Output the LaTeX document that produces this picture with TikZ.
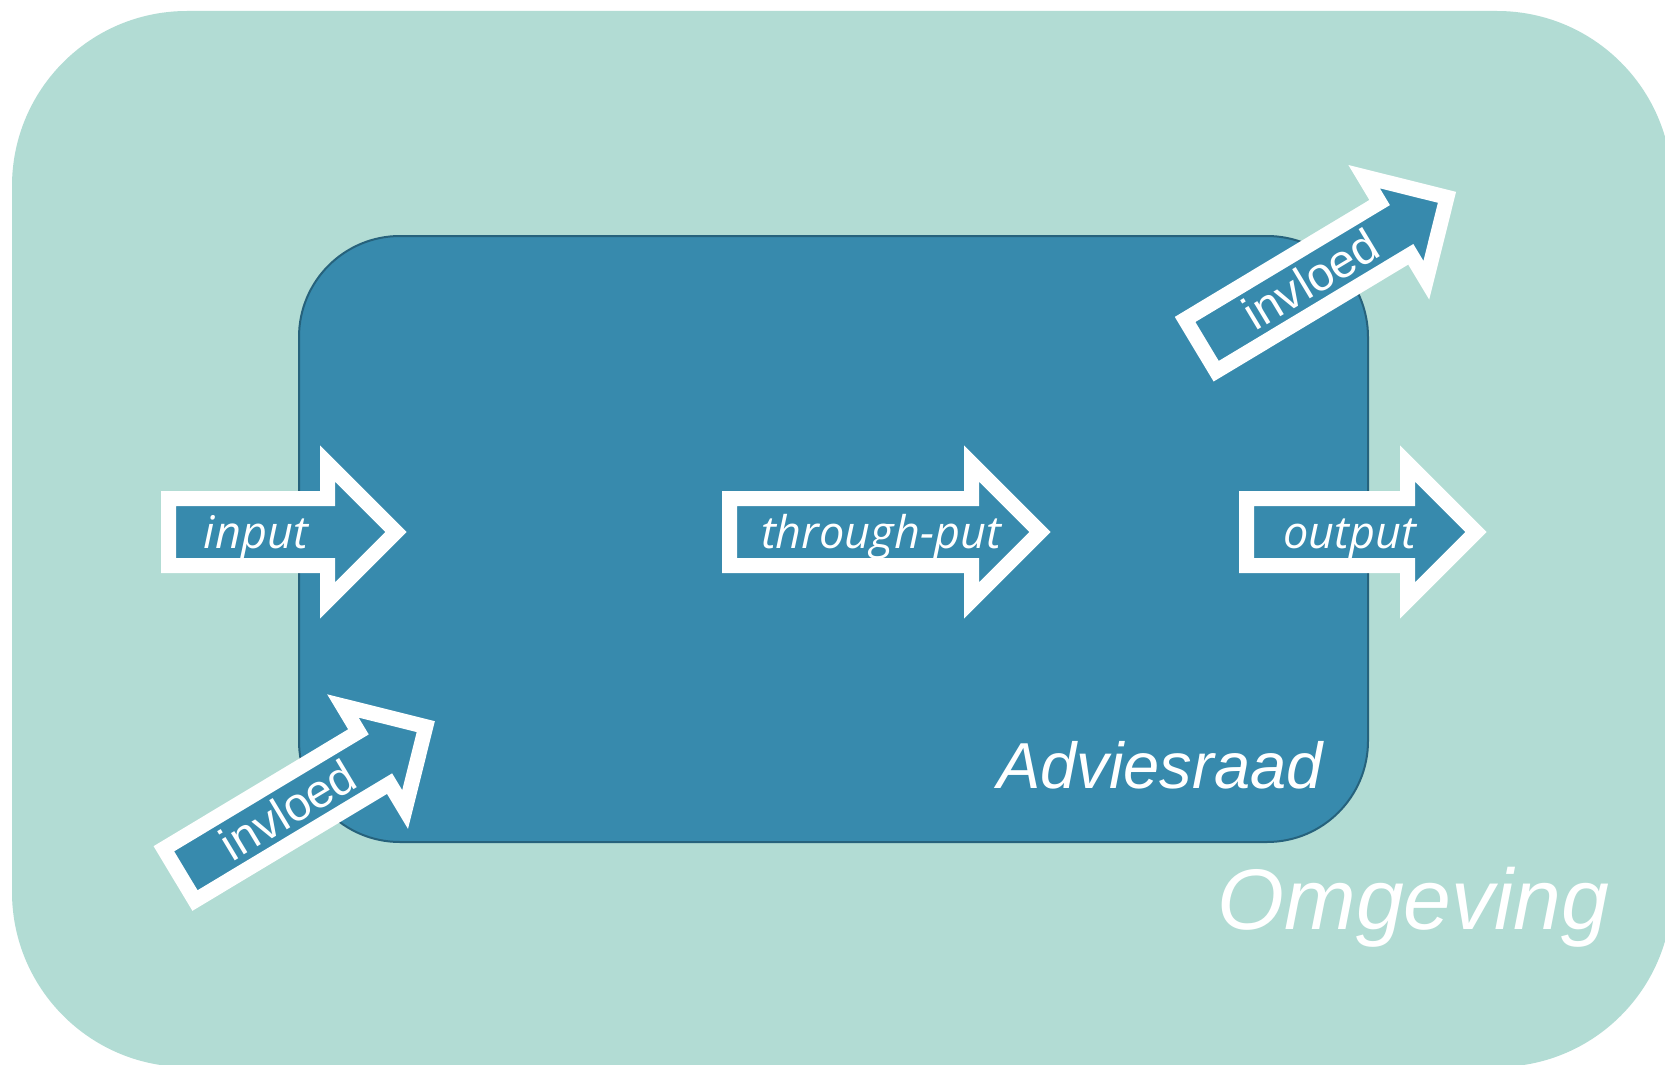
\documentclass[tikz,border=0pt]{standalone}
\usepackage{fontspec}
\setmainfont{Liberation Sans}
\newfontfamily\pijlfont{Open Sans}
\definecolor{omgevingkleur}{RGB}{178,220,212}
\definecolor{raadkleur}{RGB}{55,138,173}
\definecolor{raadrand}{RGB}{38,98,124}
\begin{document}
\begin{tikzpicture}[x=1pt,y=-1pt]
	% Styles
	\tikzset{blokpijl/.style={draw=white, line width=15pt, fill=raadkleur}}
	\tikzset{pijltekst/.style={text=white, inner sep=0pt, font=\fontsize{47}{56}\selectfont}}
	\tikzset{stroomtekst/.style={text=white, inner sep=0pt, anchor=base, font=\fontsize{45}{54}\selectfont\pijlfont\itshape}}
	
	\useasboundingbox (0,0) rectangle (1665,1065);
	\fill[white] (0,0) rectangle (1665,1065);
	\clip (0,0) rectangle (1665,1065);
	
	% Draw the environment
	\fill[omgevingkleur, rounded corners=175pt] (12,11) rectangle (1672,1067);
	
	% Draw the advisory board
	\draw[raadrand, fill=raadkleur, line width=2pt, rounded corners=101pt] (299,236) rectangle (1368,842);
	
	% Horizontal arrows
	\draw[blokpijl] (168.5,498.5) -- (327.5,498.5) -- (327.5,463.6) -- (395.9,532) -- (327.5,600.4) -- (327.5,565.5) -- (168.5,565.5) -- cycle;
	\draw[blokpijl] (729.5,498.5) -- (971.5,498.5) -- (971.5,463.6) -- (1039.9,532) -- (971.5,600.4) -- (971.5,565.5) -- (729.5,565.5) -- cycle;
	\draw[blokpijl] (1246.5,498.5) -- (1407.5,498.5) -- (1407.5,463.6) -- (1475.9,532) -- (1407.5,600.4) -- (1407.5,565.5) -- (1246.5,565.5) -- cycle;
	
	\node[stroomtekst] (input) at (256,548) {input};
	\node[stroomtekst] (throughput) at (881,548) {through-put};
	\node[stroomtekst] (output) at (1349.5,548) {output};
	
	% Diagonal arrows
	\begin{scope}[shift={(173,878.5)}, rotate=31]
		\draw[blokpijl] (7.5,-30.2) -- (234.5,-30.2) -- (234.5,-60.4) -- (294.9,0) -- (234.5,60.4) -- (234.5,30.2) -- (7.5,30.2) -- cycle;
		\node[pijltekst, rotate=31] (invloedin) at (134,0) {invloed};
	\end{scope}
	\begin{scope}[shift={(1194.2,349.2)}, rotate=31]
		\draw[blokpijl] (7.5,-30.2) -- (234.5,-30.2) -- (234.5,-60.4) -- (294.9,0) -- (234.5,60.4) -- (234.5,30.2) -- (7.5,30.2) -- cycle;
		\node[pijltekst, rotate=31] (invloeduit) at (136,0) {invloed};
	\end{scope}
	
	% Labels
	\node[text=white, inner sep=0pt, anchor=base, font=\fontsize{65}{78}\selectfont\itshape] (adviesraad) at (1160,788) {Adviesraad};
	\node[text=white, inner sep=0pt, anchor=base, font=\fontsize{86}{100}\selectfont\itshape] (omgeving) at (1413.5,929) {Omgeving};
	
\end{tikzpicture}
\end{document}
